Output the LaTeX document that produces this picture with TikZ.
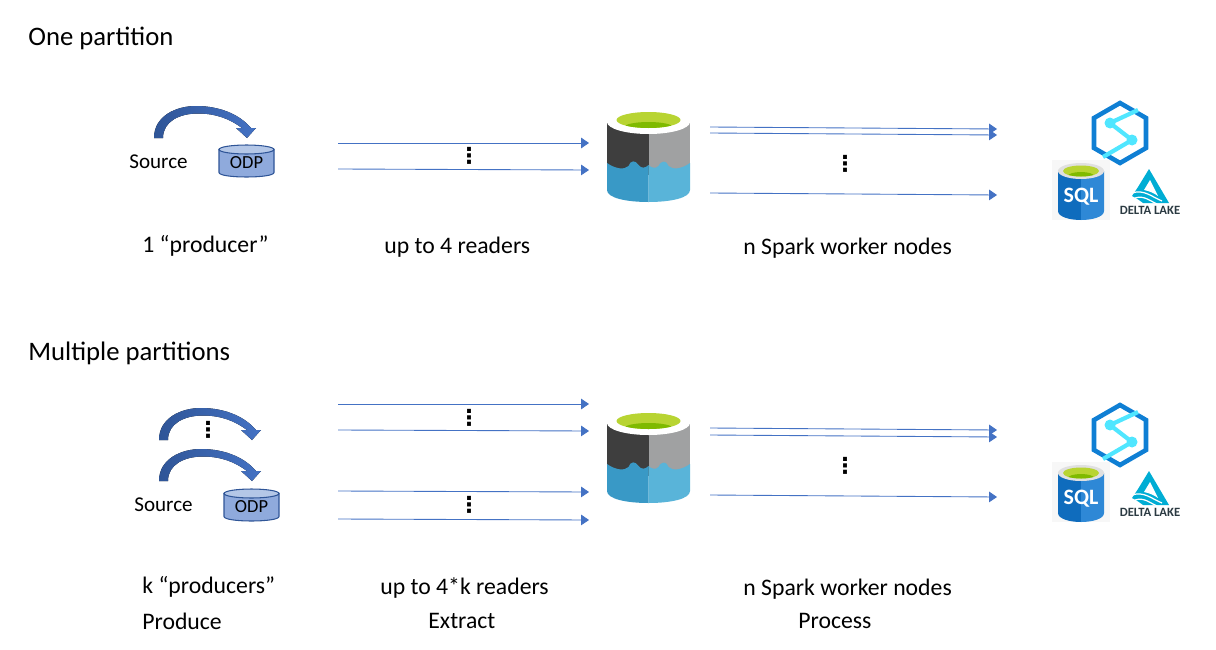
\documentclass[tikz,border=0pt]{standalone}
\usepackage{fontspec}
\setmainfont{Carlito}
\newfontfamily\dotsfont{DejaVu Sans}
\usetikzlibrary{arrows.meta}

\definecolor{linkblue}{HTML}{4472C4}
\definecolor{bendblue}{HTML}{2F5597}
\definecolor{odpblue}{HTML}{8FAADC}
\definecolor{odptop}{HTML}{B4C7E7}
\definecolor{lakedark}{HTML}{3E3E3E}
\definecolor{lakegrey}{HTML}{A0A1A2}
\definecolor{lakeblue}{HTML}{3999C6}
\definecolor{lakesky}{HTML}{59B4D9}
\definecolor{lakegreen}{HTML}{B8D432}
\definecolor{lakemoss}{HTML}{7FBA00}
\definecolor{hexblue}{HTML}{0F7FD4}
\definecolor{hexsky}{HTML}{50E6FF}
\definecolor{sqldark}{HTML}{0F6CBD}
\definecolor{sqllight}{HTML}{2E88D6}
\definecolor{deltateal}{HTML}{00ADD4}
\definecolor{deltaink}{HTML}{2B3A42}

\tikzset{
    label/.style={anchor=west, inner sep=0pt, font=\fontsize{13.5}{16}\selectfont},
    heading/.style={anchor=west, inner sep=0pt, font=\fontsize{15.2}{18}\selectfont},
    flow/.style={draw=linkblue, line width=0.5pt, -{Triangle[length=4.5pt,width=6pt]}},
    gap/.style={inner sep=0pt, font=\dotsfont\bfseries\fontsize{12.5}{14}\selectfont},
    % bent arrow, origin at the left foot
    bend/.pic={
        \fill[left color=bendblue, right color=linkblue]
            (0,0) .. controls (0,-22) and (22,-32) .. (42,-32)
            .. controls (68,-32) and (87,-22) .. (97,-10)
            -- (102,-10) -- (93,0) -- (82,-10) -- (88,-10)
            .. controls (76,-19) and (62,-24.5) .. (44,-24.5)
            .. controls (26,-24.5) and (9,-17) .. (9,0) -- cycle;
    },
    % small cylinder, origin at its centre
    odp/.pic={
        \filldraw[fill=odpblue, draw=bendblue, line width=0.6pt]
            (-27.5,-11.5) -- (-27.5,11.5)
            .. controls (-27.5,17.5) and (27.5,17.5) .. (27.5,11.5)
            -- (27.5,-11.5) -- cycle;
        \filldraw[fill=odptop, draw=bendblue, line width=0.6pt]
            (0,-11.5) ellipse (27.5 and 4.5);
        \node[inner sep=0pt, font=\fontsize{10.5}{12}\selectfont] (-text) at (0,1.5) {ODP};
    },
    % data lake, origin at the middle of its axis
    lake/.pic={
        \fill[lakedark] (-41.5,-32) -- (-41.5,20) -- (0,20) -- (0,-32) -- cycle;
        \fill[lakegrey] (0,-32) -- (0,20) -- (41.5,20) -- (41.5,-32) -- cycle;
        \fill[lakeblue] (-41.5,8) .. controls (-33,14) and (-24,15) .. (-20,11)
            .. controls (-18,5) and (-13,5) .. (-10,10)
            .. controls (-7,14) and (-3,13) .. (0,10)
            -- (0,47) .. controls (-22,47) and (-41.5,43) .. (-41.5,35) -- cycle;
        \fill[lakesky] (0,10) .. controls (3,13) and (7,14) .. (10,11)
            .. controls (13,5) and (18,5) .. (20,11)
            .. controls (24,15) and (33,14) .. (41.5,8)
            -- (41.5,35) .. controls (41.5,43) and (22,47) .. (0,47) -- cycle;
        \fill[white] (0,-33) ellipse (41.5 and 12);
        \fill[lakegreen] (0,-35) ellipse (32 and 8);
        \begin{scope}
            \clip (0,-35) ellipse (32 and 8);
            \fill[lakemoss] (0,-28) ellipse (24 and 5);
        \end{scope}
    },
    % the three targets, origin at the centre of the hexagon
    stores/.pic={
        \draw[hexblue, line width=2.6pt, line join=miter]
            (0,-30) -- (26,-15) -- (26,15) -- (0,30) -- (-26,15) -- (-26,-15) -- cycle;
        \draw[hexsky, line width=2.4pt]
            (18,-23) -- (-10,-10) -- (12,7) -- (-17,24);
        \fill[hexsky] (-10,-10) circle (5.5);
        \fill[hexsky] (12,7) circle (5.5);
        % SQL
        \fill[black!3] (-68,27) rectangle (-10,87);
        \fill[sqldark] (-62,38) -- (-62,78) .. controls (-62,84) and (-50,87) .. (-39,87) -- (-39,38) -- cycle;
        \fill[sqllight] (-39,38) -- (-39,87) .. controls (-28,87) and (-16,84) .. (-16,78) -- (-16,38) -- cycle;
        \fill[black!12] (-39,38) ellipse (23 and 8);
        \fill[lakegreen] (-39,38) ellipse (18 and 5.5);
        \begin{scope}
            \clip (-39,38) ellipse (18 and 5.5);
            \fill[lakemoss] (-39,43) ellipse (13 and 4);
        \end{scope}
        \node[inner sep=0pt, text=white, font=\fontsize{12.5}{14}\selectfont\bfseries] (-sql) at (-39,64) {SQL};
        % Delta Lake
        \fill[deltateal] (29,36) -- (49,70) -- (23,70)
            .. controls (18,66) and (14,64) .. (12,63) -- (18,54) -- cycle;
        \fill[white] (30,47) -- (38,63) .. controls (34,60) and (29,58) .. (24,57) -- cycle;
        \draw[white, line width=0.7pt] (12,60) .. controls (24,56) and (32,64) .. (42,68);
        \draw[white, line width=0.7pt] (15,65) .. controls (24,62) and (30,68) .. (37,71);
        \node[inner sep=0pt, text=deltaink, font=\fontsize{7.2}{9}\selectfont\bfseries] (-delta) at (30,77.5) {DELTA LAKE};
    }
}

\begin{document}
\begin{tikzpicture}[x=0.02cm, y=-0.02cm]
    \useasboundingbox (0,0) rectangle (1216,649);

    % Arrow ends, first row
    \coordinate (r1a) at (338,143);
    \coordinate (r1b) at (589,143);
    \coordinate (r1c) at (338,169);
    \coordinate (r1d) at (589,170);
    \coordinate (r1e) at (710,127);
    \coordinate (r1f) at (997,129);
    \coordinate (r1g) at (710,133);
    \coordinate (r1h) at (997,135);
    \coordinate (r1i) at (710,193);
    \coordinate (r1j) at (997,195);

    % Arrow ends, second row
    \coordinate (r2a) at (338,404);
    \coordinate (r2b) at (589,404);
    \coordinate (r2c) at (338,430);
    \coordinate (r2d) at (589,431);
    \coordinate (r2e) at (338,491);
    \coordinate (r2f) at (589,492);
    \coordinate (r2g) at (338,519);
    \coordinate (r2h) at (589,520);
    \coordinate (r2i) at (710,428);
    \coordinate (r2j) at (997,430);
    \coordinate (r2k) at (710,435);
    \coordinate (r2l) at (997,437);
    \coordinate (r2m) at (710,495);
    \coordinate (r2n) at (997,497);

    % Headings
    \node[heading] (onepart) at (28,38.5) {One partition};
    \node[heading] (multipart) at (28,353.5) {Multiple partitions};

    % First row
    \pic (bendA) at (154,138) {bend};
    \pic (odpA) at (246.5,161) {odp};
    \node[label] (sourceA) at (129,162) {\fontsize{12}{14}\selectfont Source};
    \pic (lakeA) at (648.5,155) {lake};
    \pic (storesA) at (1120,133) {stores};
    \draw[flow] (r1a) -- (r1b);
    \draw[flow] (r1c) -- (r1d);
    \draw[flow] (r1e) -- (r1f);
    \draw[flow] (r1g) -- (r1h);
    \draw[flow] (r1i) -- (r1j);
    \node[gap] (dotsA) at (469,156) {⋮};
    \node[gap] (dotsB) at (845,164) {⋮};
    \node[label] (producerA) at (142,246) {1 “producer”};
    \node[label] (readersA) at (384,247) {up to 4 readers};
    \node[label] (sparkA) at (743,248) {n Spark worker nodes};

    % Second row
    \pic (bendB) at (159,440) {bend};
    \pic (bendC) at (159,481) {bend};
    \pic (odpB) at (251.5,505) {odp};
    \node[label] (sourceB) at (134,505) {\fontsize{12}{14}\selectfont Source};
    \pic (lakeB) at (648.5,456) {lake};
    \pic (storesB) at (1120,435) {stores};
    \draw[flow] (r2a) -- (r2b);
    \draw[flow] (r2c) -- (r2d);
    \draw[flow] (r2e) -- (r2f);
    \draw[flow] (r2g) -- (r2h);
    \draw[flow] (r2i) -- (r2j);
    \draw[flow] (r2k) -- (r2l);
    \draw[flow] (r2m) -- (r2n);
    \node[gap] (dotsC) at (208,430) {⋮};
    \node[gap] (dotsD) at (469,418) {⋮};
    \node[gap] (dotsE) at (469,505) {⋮};
    \node[gap] (dotsF) at (845,466) {⋮};
    \node[label] (producerB) at (142,587) {k “producers”};
    \node[label] (readersB) at (380,588) {up to 4*k readers};
    \node[label] (sparkB) at (743,589) {n Spark worker nodes};
    \node[label] (produce) at (142,621) {Produce};
    \node[label] (extract) at (428,621) {Extract};
    \node[label] (process) at (798,621) {Process};
\end{tikzpicture}
\end{document}
